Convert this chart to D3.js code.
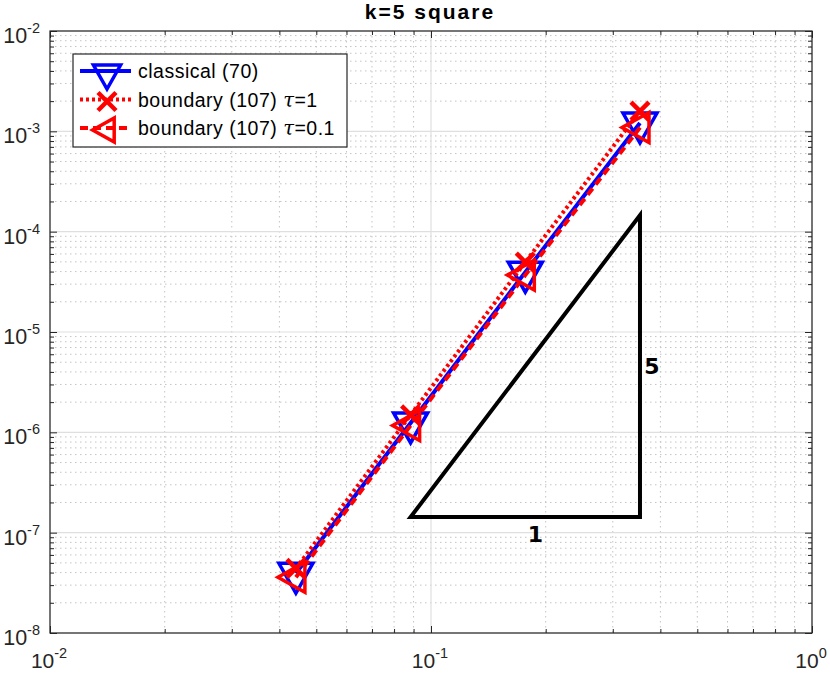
<!DOCTYPE html>
<html>
<head>
<meta charset="utf-8">
<script src="https://cdn.jsdelivr.net/npm/d3@7"></script>
<style>
body { margin: 0; background: #fff; }
svg { font-family: "Liberation Sans", Arial, sans-serif; }
</style>
</head>
<body>
<script>
// mesh sizes h
const hVals = [0.0442, 0.0884, 0.1768, 0.3536]
// errors
const classical = [3.94e-8, 1.24e-6, 3.95e-5, 1.21e-3]
const boundaryTau1 = [4.4e-8, 1.49e-6, 4.97e-5, 1.59e-3]
const boundaryTau01 = [3.6e-8, 1.17e-6, 3.69e-5, 1.09e-3]
const seriesNames = ["classical (70)", "boundary (107) ", "boundary (107) "]
const tauLabels = ["", "=1", "=0.1"]
// slope triangle corners
const triX = [0.0884, 0.3536]
const triY = [1.43e-7, 1.46e-4]
const xDecades = [-2, -1, 0]
const yDecades = [-8, -7, -6, -5, -4, -3, -2]

const svgWidth = 830, svgHeight = 674
const margin = {top: 31, right: 18, bottom: 41, left: 50}
const gWidth = svgWidth - margin.left - margin.right
const gHeight = svgHeight - margin.top - margin.bottom

const svg = d3.select("body").append("svg")
  .attr("width", svgWidth).attr("height", svgHeight)

const x = d3.scaleLog().domain([1e-2, 1]).range([0, gWidth])
const y = d3.scaleLog().domain([1e-8, 1e-2]).range([gHeight, 0])

const g = svg.append("g").attr("transform", "translate(" + margin.left + "," + margin.top + ")")

// minor + major values
var minorX = [], minorY = []
xDecades.slice(0, -1).forEach(function(e) { for (var k = 2; k < 10; k++) minorX.push(k * Math.pow(10, e)) })
yDecades.slice(0, -1).forEach(function(e) { for (var k = 2; k < 10; k++) minorY.push(k * Math.pow(10, e)) })
var majorX = xDecades.map(function(e) { return Math.pow(10, e) })
var majorY = yDecades.map(function(e) { return Math.pow(10, e) })

// grid
var grid = g.append("g")
grid.selectAll(".mgx").data(minorX).enter().append("line")
  .attr("x1", d => x(d)).attr("x2", d => x(d)).attr("y1", 0).attr("y2", gHeight)
  .attr("stroke", "#c4c4c4").attr("stroke-width", 1).attr("stroke-dasharray", "1.5,3.5")
grid.selectAll(".mgy").data(minorY).enter().append("line")
  .attr("y1", d => y(d)).attr("y2", d => y(d)).attr("x1", 0).attr("x2", gWidth)
  .attr("stroke", "#c4c4c4").attr("stroke-width", 1).attr("stroke-dasharray", "1.5,3.5")
grid.selectAll(".gx").data(majorX).enter().append("line")
  .attr("x1", d => x(d)).attr("x2", d => x(d)).attr("y1", 0).attr("y2", gHeight)
  .attr("stroke", "#dfdfdf").attr("stroke-width", 1.2)
grid.selectAll(".gy").data(majorY).enter().append("line")
  .attr("y1", d => y(d)).attr("y2", d => y(d)).attr("x1", 0).attr("x2", gWidth)
  .attr("stroke", "#dfdfdf").attr("stroke-width", 1.2)

// axes with inward ticks on all four sides
function ticks(axisFn, scale, vals, size, tr) {
  g.append("g").attr("transform", tr)
    .call(axisFn(scale).tickValues(vals).tickSize(size).tickFormat(""))
    .call(s => s.select(".domain").remove())
    .selectAll("line").attr("stroke", "#262626")
}
ticks(d3.axisTop, x, majorX, 7, "translate(0," + gHeight + ")")
ticks(d3.axisTop, x, minorX, 4, "translate(0," + gHeight + ")")
ticks(d3.axisBottom, x, majorX, 7, "translate(0,0)")
ticks(d3.axisBottom, x, minorX, 4, "translate(0,0)")
ticks(d3.axisRight, y, majorY, 7, "translate(0,0)")
ticks(d3.axisRight, y, minorY, 4, "translate(0,0)")
ticks(d3.axisLeft, y, majorY, 7, "translate(" + gWidth + ",0)")
ticks(d3.axisLeft, y, minorY, 4, "translate(" + gWidth + ",0)")

g.append("rect").attr("width", gWidth).attr("height", gHeight)
  .attr("fill", "none").attr("stroke", "#262626").attr("stroke-width", 1.2)

// tick labels
function expLabel(sel, e) {
  sel.append("tspan").text("10")
  sel.append("tspan").attr("dy", -10).attr("font-size", 14.5).text(e)
}
xDecades.forEach(function(e) {
  var t = g.append("text").attr("x", x(Math.pow(10, e)) - 1).attr("y", gHeight + 35)
    .attr("text-anchor", "middle").attr("font-size", 21).attr("fill", "#262626")
  expLabel(t, e)
})
yDecades.forEach(function(e) {
  var t = g.append("text").attr("x", -10).attr("y", y(Math.pow(10, e)) + 12)
    .attr("text-anchor", "end").attr("font-size", 21.5).attr("fill", "#262626")
  expLabel(t, e)
})

// title
svg.append("text").attr("x", margin.left + gWidth / 2 - 1).attr("y", 19)
  .attr("text-anchor", "middle").attr("font-size", 21).attr("font-weight", "bold")
  .attr("letter-spacing", 2).attr("fill", "#000").text("k=5 square")

// slope triangle
var triPts = [[triX[0], triY[0]], [triX[1], triY[0]], [triX[1], triY[1]]]
g.append("path")
  .attr("d", d3.line().x(d => x(d[0])).y(d => y(d[1]))(triPts) + "Z")
  .attr("fill", "none").attr("stroke", "#000").attr("stroke-width", 4)
  .attr("stroke-linejoin", "miter")
g.append("text").attr("x", (x(triX[0]) + x(triX[1])) / 2 + 10).attr("y", y(triY[0]) + 25)
  .attr("text-anchor", "middle").attr("font-family", "DejaVu Sans").attr("font-weight", "bold")
  .attr("font-size", 22).text("1")
g.append("text").attr("x", x(triX[1]) + 12).attr("y", y(Math.sqrt(triY[0] * triY[1])) + 8)
  .attr("text-anchor", "middle").attr("font-family", "DejaVu Sans").attr("font-weight", "bold")
  .attr("font-size", 22).text("5")

// markers, triangles centred on their centroid
function marker(sel, type, color, k) {
  if (type === "tdown") {
    var w = 17 * k, h = 30 * k
    sel.append("path").attr("d", "M" + (-w) + "," + (-h / 3) + "L" + w + "," + (-h / 3) + "L0," + (2 * h / 3) + "Z")
      .attr("fill", "none").attr("stroke", color).attr("stroke-width", 3.5).attr("stroke-linejoin", "miter")
  } else if (type === "x") {
    var a = 9
    sel.append("path").attr("d", "M" + (-a) + "," + (-a) + "L" + a + "," + a + "M" + (-a) + "," + a + "L" + a + "," + (-a))
      .attr("stroke", color).attr("stroke-width", 4.5)
  } else {
    var hw = 27 * k, hh = 15 * k
    sel.append("path").attr("d", "M" + (-2 * hw / 3) + ",0L" + (hw / 3) + "," + (-hh) + "L" + (hw / 3) + "," + hh + "Z")
      .attr("fill", "none").attr("stroke", color).attr("stroke-width", 3.5).attr("stroke-linejoin", "miter")
  }
}

var series = [
  {vals: classical, color: "#0000ff", dash: null, mk: "tdown"},
  {vals: boundaryTau1, color: "#ff0000", dash: "3,3", mk: "x"},
  {vals: boundaryTau01, color: "#ff0000", dash: "8,5", mk: "tleft"}
]
var line = d3.line().x(d => x(d[0])).y(d => y(d[1]))
series.forEach(function(s) {
  var pts = hVals.map((h, i) => [h, s.vals[i]])
  g.append("path").attr("d", line(pts)).attr("fill", "none")
    .attr("stroke", s.color).attr("stroke-width", 4)
    .attr("stroke-dasharray", s.dash)
  g.selectAll(null).data(pts).enter().append("g")
    .attr("transform", d => "translate(" + x(d[0]) + "," + y(d[1]) + ")")
    .each(function() { marker(d3.select(this), s.mk, s.color, 1) })
})

// legend
var lg = svg.append("g").attr("transform", "translate(73,54)")
lg.append("rect").attr("width", 274).attr("height", 93)
  .attr("fill", "#fff").attr("stroke", "#262626").attr("stroke-width", 1.2)
series.forEach(function(s, i) {
  var ly = 17 + i * 28.5
  lg.append("line").attr("x1", 7).attr("x2", 58).attr("y1", ly).attr("y2", ly)
    .attr("stroke", s.color).attr("stroke-width", 4).attr("stroke-dasharray", s.dash)
  marker(lg.append("g").attr("transform", "translate(34," + (ly + 2) + ")"), s.mk, s.color, 0.8)
  var t = lg.append("text").attr("x", 65).attr("y", ly + 7).attr("font-size", 19.5)
    .attr("letter-spacing", 0.5).attr("fill", "#000")
  t.append("tspan").text(seriesNames[i])
  if (tauLabels[i]) {
    t.append("tspan").attr("font-family", "DejaVu Serif").attr("font-style", "italic").text("\u03c4")
    t.append("tspan").text(tauLabels[i])
  }
})
</script>
</body>
</html>
